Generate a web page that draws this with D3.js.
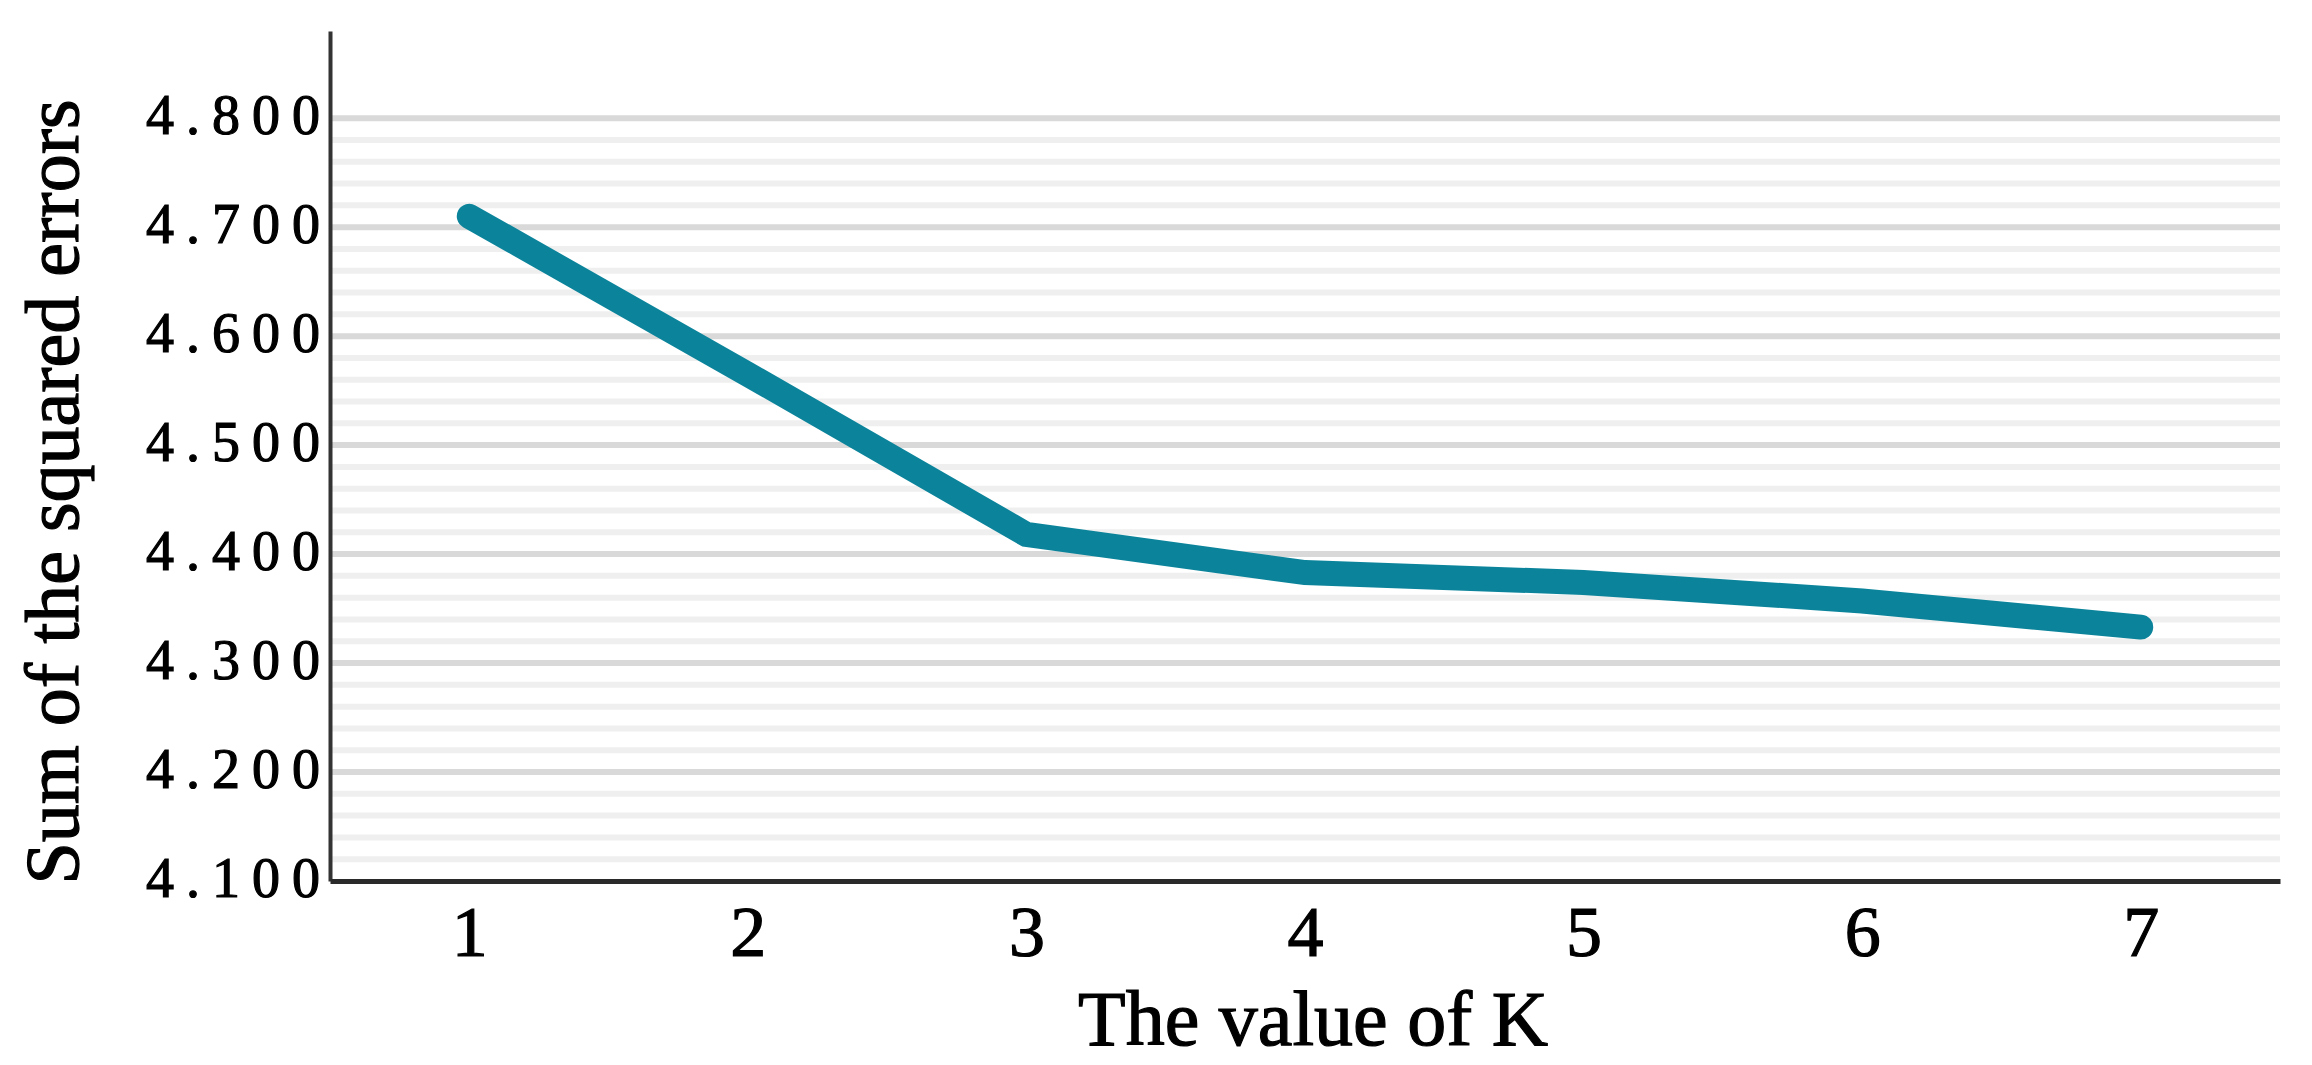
<!DOCTYPE html>
<html>
<head>
<meta charset="utf-8">
<script src="https://cdn.jsdelivr.net/npm/d3@7"></script>
<style>
  body { margin: 0; background: #fff; }
  text { font-family: "Liberation Serif", "Times New Roman", serif; fill: #000; stroke: #000; stroke-width: 1.2px; }
</style>
</head>
<body>
<script>
'use strict';

// values
const kValues = ['1', '2', '3', '4', '5', '6', '7'];
const sse = [4.710, 4.565, 4.418, 4.383, 4.374, 4.357, 4.333];
const yTicks = [4.1, 4.2, 4.3, 4.4, 4.5, 4.6, 4.7, 4.8];
const yMinorTicks = d3.range(4.12, 4.8, 0.02).filter(v => Math.abs(v * 10 - Math.round(v * 10)) > 0.01);
const xTitle = 'The value of K';
const yTitle = 'Sum of the squared errors';

const msm = {
  width: 2312,
  height: 1065,
  left: 330,
  right: 2280,
  top: 31,
  bottom: 881
};

const svg = d3.select('body')
  .append('svg')
  .attr('width', msm.width)
  .attr('height', msm.height);

// scales
const x = d3.scalePoint()
  .domain(kValues)
  .range([msm.left, msm.right])
  .padding(0.5);

const y = d3.scaleLinear()
  .domain([4.1, 4.88])
  .range([msm.bottom, msm.top]);

// minor gridlines
svg.append('g')
  .selectAll('line')
  .data(yMinorTicks)
  .enter()
  .append('line')
    .attr('x1', msm.left)
    .attr('x2', msm.right)
    .attr('y1', d => y(d))
    .attr('y2', d => y(d))
    .attr('stroke', '#efefef')
    .attr('stroke-width', 6);

// major gridlines
svg.append('g')
  .selectAll('line')
  .data(yTicks.slice(1))
  .enter()
  .append('line')
    .attr('x1', msm.left)
    .attr('x2', msm.right)
    .attr('y1', d => y(d))
    .attr('y2', d => y(d))
    .attr('stroke', '#d9d9d9')
    .attr('stroke-width', 6);

// y axis
const yAxis = d3.axisLeft(y)
  .tickValues(yTicks)
  .tickSize(0)
  .tickPadding(4)
  .tickFormat(d3.format('.3f'));

const gy = svg.append('g')
  .attr('transform', 'translate(' + msm.left + ',0)')
  .call(yAxis);
gy.select('.domain')
  .attr('stroke', '#333')
  .attr('stroke-width', 4);
gy.selectAll('.tick text')
  .attr('x', 2)
  .attr('dy', '0.28em')
  .style('font-size', '56px')
  .style('letter-spacing', '12px')
  .style('font-family', '"Liberation Serif", serif')
  .attr('fill', '#000');

// x axis
const xAxis = d3.axisBottom(x)
  .tickSize(0)
  .tickPadding(24);

const gx = svg.append('g')
  .attr('transform', 'translate(0,' + msm.bottom + ')')
  .call(xAxis);
gx.select('.domain')
  .attr('stroke', '#2a2a2a')
  .attr('stroke-width', 5);
gx.selectAll('.tick text')
  .attr('dy', '0.71em')
  .style('font-size', '72px')
  .style('font-family', '"Liberation Serif", serif')
  .attr('fill', '#000');

// the line
const line = d3.line()
  .x((d, i) => x(kValues[i]))
  .y(d => y(d));

svg.append('path')
  .datum(sse)
  .attr('fill', 'none')
  .attr('stroke', '#0b849b')
  .attr('stroke-width', 25)
  .attr('stroke-linecap', 'round')
  .attr('stroke-linejoin', 'miter')
  .attr('d', line);

// titles
svg.append('text')
  .attr('x', (msm.left + msm.right) / 2 + 8)
  .attr('y', 1045)
  .attr('text-anchor', 'middle')
  .style('font-size', '78px')
  .text(xTitle);

svg.append('text')
  .attr('transform', 'translate(78,492) rotate(-90)')
  .attr('text-anchor', 'middle')
  .style('font-size', '76px')
  .text(yTitle);
</script>
</body>
</html>
